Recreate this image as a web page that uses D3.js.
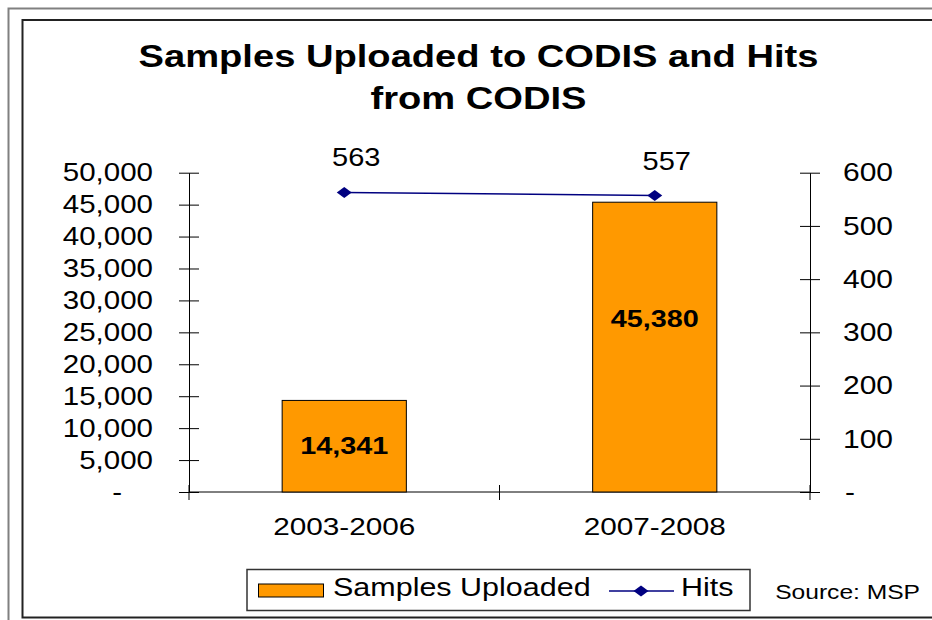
<!DOCTYPE html>
<html><head><meta charset="utf-8">
<script src="https://cdn.jsdelivr.net/npm/d3@7"></script>
<style>
body{margin:0;background:#fff}
svg{display:block;font-family:"Liberation Sans",Arial,sans-serif}
</style>
</head><body>
<svg id="chart" width="932" height="620"></svg>
<script>
// ---- data ----
const categories = ["2003-2006", "2007-2008"];
const samplesUploaded = [14341, 45380];
const hits = [563, 557];
const leftTicks = [0, 5000, 10000, 15000, 20000, 25000, 30000, 35000, 40000, 45000, 50000];
const rightTicks = [0, 100, 200, 300, 400, 500, 600];
const titleLines = ["Samples Uploaded to CODIS and Hits", "from CODIS"];
const seriesNames = ["Samples Uploaded", "Hits"];
const sourceNote = "Source: MSP";

// ---- layout ----
const svg = d3.select("#chart");
const plot = {left: 189, right: 810, top: 172.7, bottom: 492};
const ORANGE = "#FF9900", NAVY = "#000080";
const FONT = '"Liberation Sans", Arial, sans-serif';

function stretch(sel, sx) {
  sel.each(function () {
    const t = d3.select(this);
    const x = +t.attr("x") || 0, y = +t.attr("y") || 0;
    t.attr("transform", `translate(${x},${y}) scale(${sx},1)`).attr("x", 0).attr("y", 0);
  });
}

// borders
svg.append("rect").attr("x", 8.5).attr("y", 8.5).attr("width", 940).attr("height", 640)
  .attr("fill", "none").attr("stroke", "#808080").attr("stroke-width", 2);
svg.append("rect").attr("x", 22.5).attr("y", 20).attr("width", 940).attr("height", 597.5)
  .attr("fill", "none").attr("stroke", "#222").attr("stroke-width", 2);

// scales
const x = d3.scaleBand().domain(categories).range([plot.left, plot.right])
  .paddingInner(0.6).paddingOuter(0.3);
const yL = d3.scaleLinear().domain([0, 50000]).range([plot.bottom, plot.top]);
const yR = d3.scaleLinear().domain([0, 600]).range([plot.bottom, plot.top]);
const fmt = v => v === 0 ? "-" : d3.format(",")(v);

// title
const title = svg.append("g").attr("font-family", FONT).attr("font-weight", "bold")
  .attr("font-size", 30.5).attr("fill", "#000");
title.selectAll("text").data(titleLines).join("text")
  .attr("x", 478.5).attr("y", (d, i) => 67 + i * 41.5).attr("text-anchor", "middle").text(d => d)
  .call(stretch, 1.25);

// left axis
const gL = svg.append("g").attr("transform", `translate(${plot.left},0)`)
  .call(d3.axisLeft(yL).tickValues(leftTicks).tickFormat(fmt).tickSizeOuter(0).tickSizeInner(10));
gL.attr("font-family", FONT).attr("font-size", 25);
gL.select(".domain").attr("stroke", "#000");
gL.selectAll(".tick line").attr("x1", -10).attr("x2", 10).attr("stroke", "#000");
gL.selectAll(".tick text").attr("fill", "#000").attr("text-anchor", "end")
  .attr("x", d => d === 0 ? -67 : -36).attr("dy", "0.33em")
  .call(stretch, 1.18);

// right axis
const gR = svg.append("g").attr("transform", `translate(${plot.right},0)`)
  .call(d3.axisRight(yR).tickValues(rightTicks).tickFormat(fmt).tickSizeOuter(0).tickSizeInner(10));
gR.attr("font-family", FONT).attr("font-size", 25);
gR.select(".domain").attr("stroke", "#000");
gR.selectAll(".tick line").attr("x1", -10).attr("x2", 10).attr("stroke", "#000");
gR.selectAll(".tick text").attr("fill", "#000").attr("text-anchor", "start")
  .attr("x", d => d === 0 ? 35 : 33).attr("dy", "0.33em")
  .call(stretch, 1.2);

// category axis
svg.append("line").attr("x1", plot.left).attr("x2", plot.right)
  .attr("y1", plot.bottom).attr("y2", plot.bottom).attr("stroke", "#000");
const boundaries = [plot.left].concat(categories.map(c => x(c) + x.bandwidth() / 2 + x.step() / 2));
svg.append("g").selectAll("line").data(boundaries).join("line")
  .attr("x1", d => d).attr("x2", d => d).attr("y1", plot.bottom - 7).attr("y2", plot.bottom + 8)
  .attr("stroke", "#000");
svg.append("g").attr("font-family", FONT).attr("font-size", 24).attr("fill", "#000")
  .selectAll("text").data(categories).join("text")
  .attr("x", d => x(d) + x.bandwidth() / 2).attr("y", 535).attr("text-anchor", "middle").text(d => d)
  .call(stretch, 1.24);

// bars
svg.append("g").selectAll("rect").data(samplesUploaded).join("rect")
  .attr("x", (d, i) => x(categories[i])).attr("width", x.bandwidth())
  .attr("y", d => yL(d)).attr("height", d => yL(0) - yL(d))
  .attr("fill", ORANGE).attr("stroke", "#000").attr("stroke-width", 1);

// bar labels
const labelFrac = [0.51, 0.6];
svg.append("g").attr("font-family", FONT).attr("font-weight", "bold").attr("font-size", 24).attr("fill", "#000")
  .selectAll("text").data(samplesUploaded).join("text")
  .attr("x", (d, i) => x(categories[i]) + x.bandwidth() / 2)
  .attr("y", (d, i) => yL(d * labelFrac[i]) + 8.5)
  .attr("text-anchor", "middle").text(d => d3.format(",")(d))
  .call(stretch, 1.2);

// hits line
const cx = i => x(categories[i]) + x.bandwidth() / 2;
const line = d3.line().x((d, i) => cx(i)).y(d => yR(d));
svg.append("path").datum(hits).attr("d", line).attr("fill", "none")
  .attr("stroke", NAVY).attr("stroke-width", 1.5);
const diamond = (px, py, w, h) => `M${px - w},${py}L${px},${py - h}L${px + w},${py}L${px},${py + h}Z`;
svg.append("g").selectAll("path").data(hits).join("path")
  .attr("d", (d, i) => diamond(cx(i), yR(d), 7.5, 5.5)).attr("fill", NAVY);
svg.append("g").attr("font-family", FONT).attr("font-size", 25).attr("fill", "#000")
  .selectAll("text").data(hits).join("text")
  .attr("x", (d, i) => cx(i) + 12).attr("y", d => yR(d) - 26)
  .attr("text-anchor", "middle").text(d => d)
  .call(stretch, 1.16);

// legend
const lg = svg.append("g").attr("font-family", FONT).attr("font-size", 25).attr("fill", "#000");
lg.append("rect").attr("x", 247).attr("y", 569.5).attr("width", 503).attr("height", 41)
  .attr("fill", "#fff").attr("stroke", "#333").attr("stroke-width", 1.5);
lg.append("rect").attr("x", 258.5).attr("y", 584).attr("width", 65).attr("height", 13)
  .attr("fill", ORANGE).attr("stroke", "#000");
lg.append("text").attr("x", 333).attr("y", 596).text(seriesNames[0]).call(stretch, 1.22);
lg.append("line").attr("x1", 609).attr("x2", 674).attr("y1", 591).attr("y2", 591)
  .attr("stroke", NAVY).attr("stroke-width", 1.5);
lg.append("path").attr("d", diamond(641, 591, 7.5, 5.5)).attr("fill", NAVY);
lg.append("text").attr("x", 681).attr("y", 596).text(seriesNames[1]).call(stretch, 1.22);

// source
svg.append("text").attr("font-family", FONT).attr("font-size", 20).attr("fill", "#000")
  .attr("x", 920).attr("y", 599).attr("text-anchor", "end").text(sourceNote)
  .call(stretch, 1.23);
</script>
</body></html>
